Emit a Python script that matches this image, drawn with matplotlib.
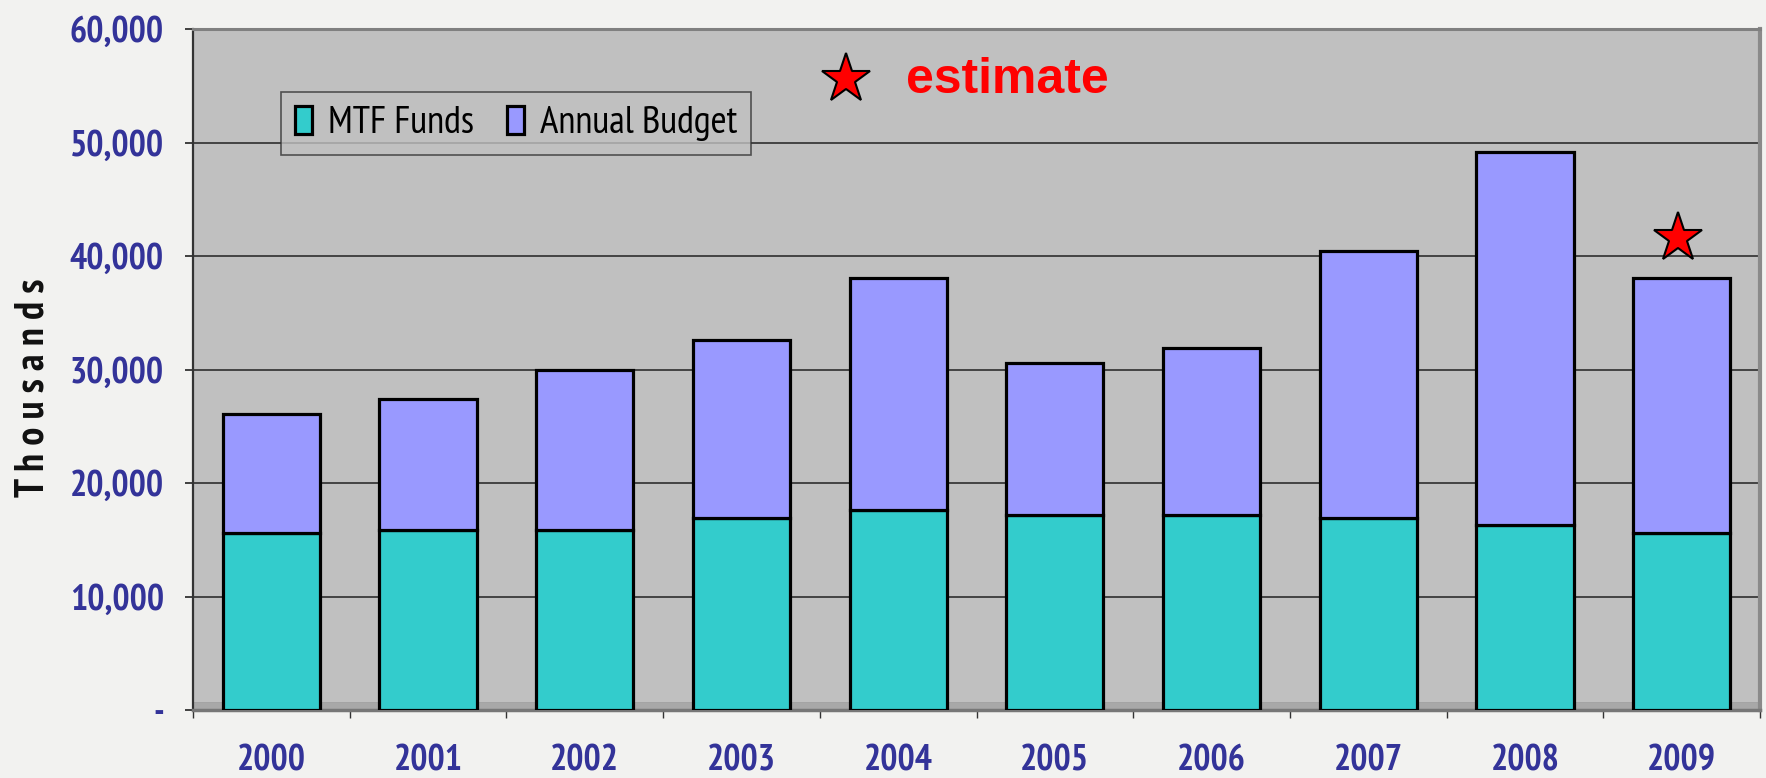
import matplotlib
matplotlib.use("Agg")
import matplotlib.pyplot as plt
from matplotlib.ticker import FuncFormatter
import numpy as np

years = ["2000", "2001", "2002", "2003", "2004", "2005", "2006", "2007", "2008", "2009"]
mtf_funds = [15600, 15900, 15900, 16900, 17600, 17200, 17200, 16900, 16300, 15600]
totals = [26100, 27400, 30000, 32600, 38100, 30600, 31900, 40400, 49200, 38100]
annual_budget = [t - m for t, m in zip(totals, mtf_funds)]
y_ticks = [0, 10000, 20000, 30000, 40000, 50000, 60000]

NARROW = ["PT Sans Narrow", "DejaVu Sans"]
WIDE = ["Liberation Sans", "DejaVu Sans"]
BLUE = "#333399"

fig = plt.figure(figsize=(17.66, 7.78), dpi=100, facecolor="#f2f2f0")
ax = fig.add_axes([193 / 1766, 68 / 778, 1567 / 1766, 681 / 778])
ax.set_facecolor("#c0c0c0")

x = np.arange(len(years))
w = 0.62
ax.bar(x, mtf_funds, w, color="#33cccc", edgecolor="black", linewidth=2.3,
       label="MTF Funds", zorder=3)
ax.bar(x, annual_budget, w, bottom=mtf_funds, color="#9999ff", edgecolor="black",
       linewidth=2.3, label="Annual Budget", zorder=3)

ax.set_xlim(-0.5, len(years) - 0.5)
ax.set_ylim(0, 60000)
ax.set_yticks(y_ticks)
ax.yaxis.set_major_formatter(FuncFormatter(lambda v, p: "-" if v == 0 else f"{int(v):,}"))
for v in y_ticks[1:-1]:
    ax.axhline(v, color="#222222", lw=1.1, zorder=1)
ax.axhline(620, color="#333333", lw=1.0, zorder=1)
ax.axhspan(0, 620, color="#a8a8a8", lw=0, zorder=1)

ax.set_xticks(x)
ax.set_xticklabels(years)
ax.set_xticks(np.arange(-0.5, len(years)), minor=True)
ax.tick_params(axis="x", which="major", length=0, pad=25)
ax.tick_params(axis="x", which="minor", length=6, width=1, direction="out", color="#333333")
ax.tick_params(axis="y", length=6, width=1.2, pad=15, color="#222222")
for lab in ax.get_xticklabels() + ax.get_yticklabels():
    lab.set_fontfamily(NARROW)
    lab.set_fontweight("bold")
    lab.set_fontstretch("condensed")
    lab.set_fontsize(26)
    lab.set_color(BLUE)

ax.spines["left"].set_color("#333333")
ax.spines["left"].set_linewidth(1.6)
ax.spines["bottom"].set_color("#777777")
ax.spines["bottom"].set_linewidth(2.5)
ax.spines["top"].set_color("#808080")
ax.spines["top"].set_linewidth(2.2)
ax.spines["right"].set_color("#8a8a8a")
ax.spines["right"].set_linewidth(3)

fig.text(33 / 1766, 1 - 388 / 778, "T h o u s a n d s", rotation=90, ha="center",
         va="center", fontsize=29, fontweight="bold", fontstretch="condensed",
         family=NARROW, color="#111111")

leg = ax.legend(loc="upper left", bbox_to_anchor=(0.0562, 0.9075), ncol=2,
                frameon=True, fancybox=False, handlelength=0.45,
                handleheight=0.75, handletextpad=0.4, columnspacing=0.85,
                borderpad=0.35, borderaxespad=0,
                prop={"family": NARROW, "size": 28, "stretch": "condensed"})
leg.get_frame().set_facecolor("#c0c0c0")
leg.get_frame().set_edgecolor("#333333")
leg.get_frame().set_linewidth(1.2)
leg.set_zorder(5)

# estimate markers
ax.plot([3.667], [55600], marker="*", markersize=37, markerfacecolor="red",
        markeredgecolor="black", markeredgewidth=1.5, zorder=6, clip_on=False)
ax.text(4.05, 55500, "estimate", color="red", fontsize=36, fontweight="bold",
        family=WIDE, va="center", ha="left", zorder=6)
ax.plot([x[-1] - 0.025], [totals[-1] + 3500], marker="*", markersize=37,
        markerfacecolor="red", markeredgecolor="black", markeredgewidth=1.5, zorder=6)

fig.savefig("out.png", dpi=100, facecolor=fig.get_facecolor())
